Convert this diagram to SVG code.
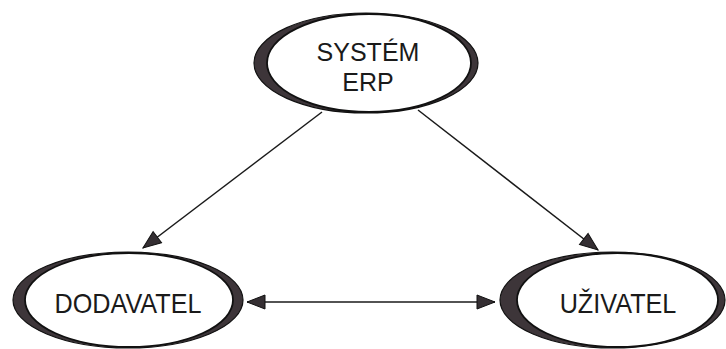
<svg xmlns="http://www.w3.org/2000/svg" width="726" height="349" viewBox="0 0 726 349">
<style>
.outer{fill:#3d3539;stroke:#111;stroke-width:1.2}
.inner{fill:#fff;stroke:#111;stroke-width:1.8}
.lbl{font-family:"Liberation Sans",Arial,sans-serif;font-size:26px;fill:#1a1a1a;text-anchor:middle}
.sm{font-size:25px}
.conn{stroke:#1a1a1a;stroke-width:1.5;fill:none}
</style>
<defs>
<marker id="ah" markerUnits="userSpaceOnUse" markerWidth="20" markerHeight="16" refX="19" refY="8" orient="auto-start-reverse">
<path d="M1,1 L19,8 L1,15 z" fill="#352f33" stroke="#111" stroke-width="1"/>
</marker>
</defs>
<rect width="726" height="349" fill="#fff"/>
<g id="erp">
<ellipse class="outer" cx="366" cy="63" rx="112" ry="50"/>
<ellipse class="inner" cx="369" cy="63" rx="102" ry="49"/>
<text class="lbl sm" x="368" y="61">SYSTÉM</text>
<text class="lbl sm" x="368" y="91">ERP</text>
</g>
<g id="dodavatel">
<ellipse class="outer" cx="128" cy="300" rx="115" ry="48"/>
<ellipse class="inner" cx="129" cy="300" rx="104" ry="47"/>
<text class="lbl" transform="translate(128 313) scale(0.97 1.08)">DODAVATEL</text>
</g>
<g id="uzivatel">
<ellipse class="outer" cx="612.5" cy="300" rx="112.5" ry="48"/>
<ellipse class="inner" cx="617.5" cy="300" rx="100.5" ry="47"/>
<text class="lbl" transform="translate(618 313) scale(0.97 1.08)">UŽIVATEL</text>
</g>
<g id="connectors">
<line class="conn" x1="322" y1="112" x2="143" y2="248" marker-end="url(#ah)"/>
<line class="conn" x1="418" y1="110" x2="598" y2="250" marker-end="url(#ah)"/>
<line class="conn" x1="247" y1="302" x2="495" y2="302" marker-start="url(#ah)" marker-end="url(#ah)"/>
</g>
</svg>
